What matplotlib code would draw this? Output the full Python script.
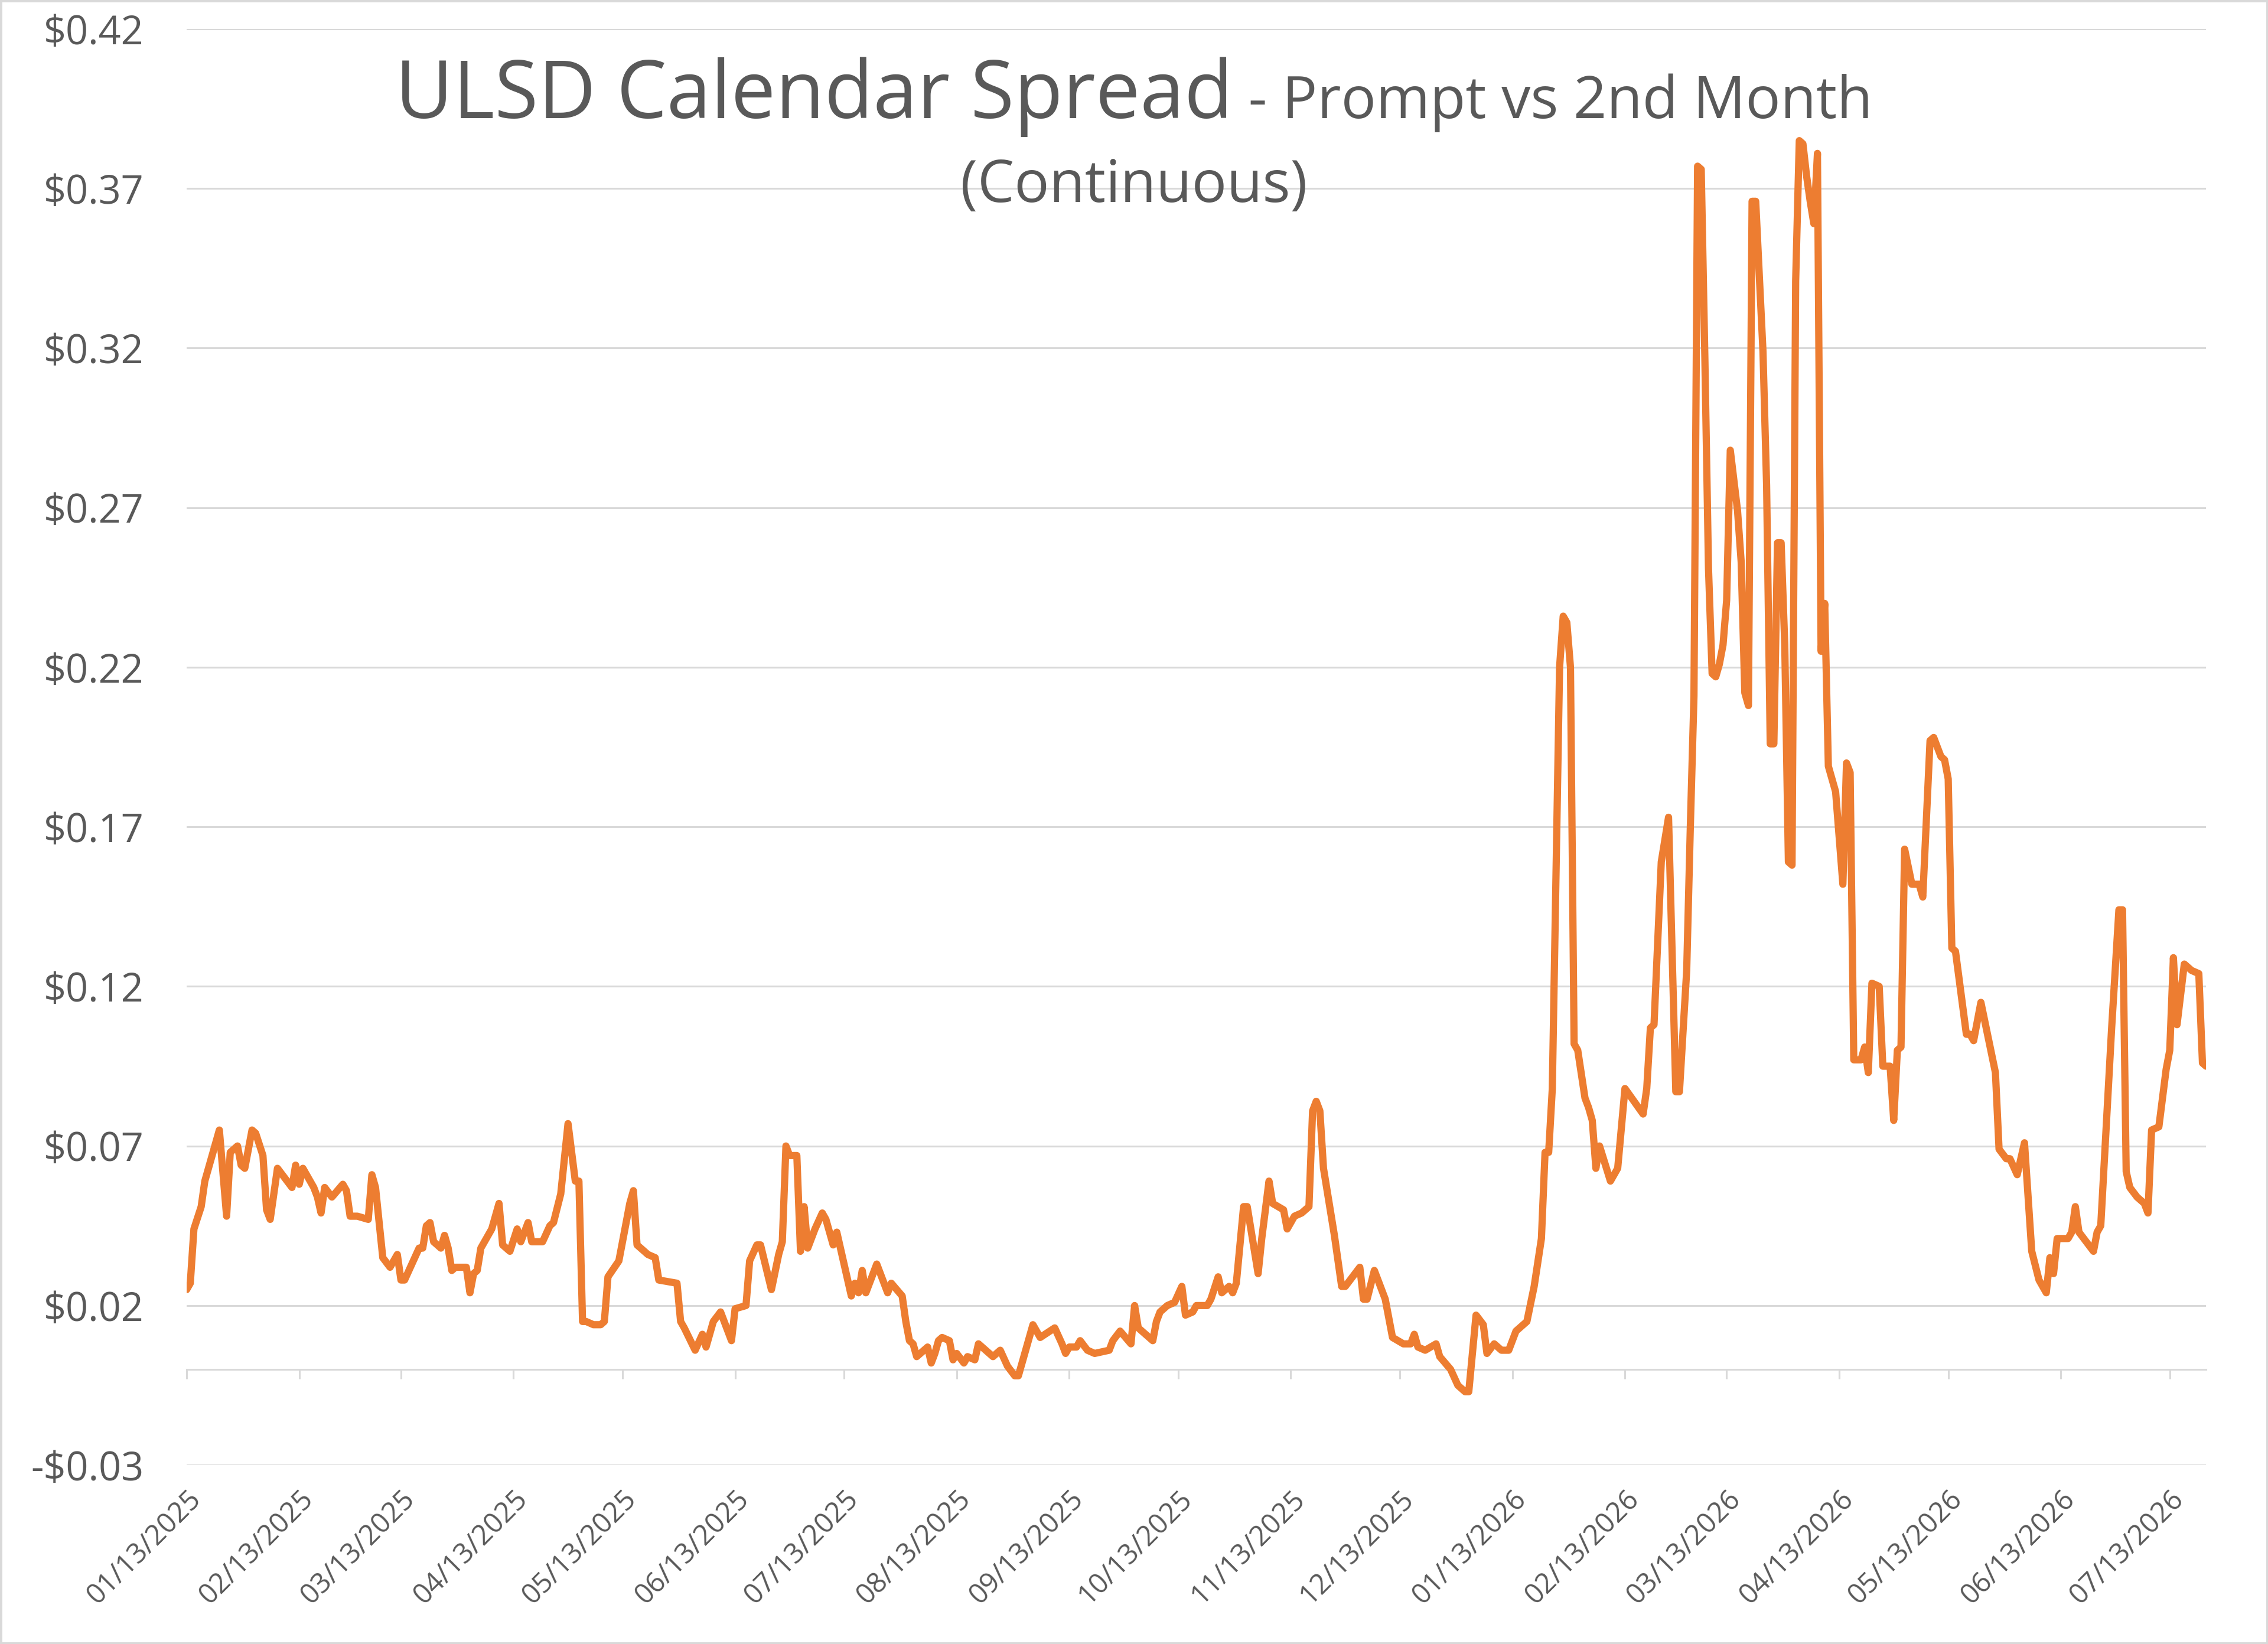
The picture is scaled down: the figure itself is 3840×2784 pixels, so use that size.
import numpy as np
import pandas as pd
import matplotlib
matplotlib.use("Agg")
import matplotlib.pyplot as plt
import matplotlib.dates as mdates
from matplotlib.patches import Rectangle
from matplotlib.ticker import FuncFormatter, FixedLocator

plt.rcParams['font.family'] = ['Open Sans', 'DejaVu Sans']

# ---data---
start_date = "2025-01-13"
day_offset = [
    0, 1, 2, 4, 5, 9, 11, 12, 14, 15, 16, 18, 19, 21, 22, 23, 25, 27, 29, 30,
    31, 32, 35, 36, 37, 38, 40, 43, 44, 45, 47, 50, 51, 52, 54, 56, 58, 59, 60, 62,
    64, 65, 66, 67, 68, 70, 71, 72, 73, 74, 77, 78, 79, 80, 81, 84, 86, 87, 89, 91,
    92, 94, 95, 98, 100, 101, 103, 105, 107, 108, 109, 110, 112, 114, 115, 116, 119, 120, 122, 123,
    124, 127, 129, 130, 135, 136, 137, 140, 142, 143, 145, 147, 150, 151, 154, 155, 157, 158, 161, 163,
    164, 165, 166, 168, 169, 170, 171, 173, 175, 176, 178, 179, 180, 183, 184, 185, 186, 187, 190, 193,
    194, 197, 198, 199, 200, 201, 204, 205, 206, 207, 208, 210, 211, 212, 214, 215, 217, 218, 220, 222,
    224, 226, 228, 229, 233, 235, 239, 241, 242, 243, 245, 246, 248, 250, 254, 255, 257, 260, 261, 262,
    264, 266, 267, 268, 270, 272, 274, 275, 277, 278, 281, 282, 284, 285, 287, 288, 289, 291, 292, 295,
    296, 298, 299, 302, 303, 305, 307, 309, 310, 311, 312, 313, 316, 318, 319, 323, 324, 325, 327, 330,
    331, 332, 335, 337, 338, 339, 341, 344, 345, 348, 350, 352, 353, 355, 357, 358, 360, 362, 364, 366,
    367, 369, 371, 373, 374, 375, 376, 378, 379, 380, 381, 382, 383, 385, 386, 387, 388, 389, 392, 394,
    396, 401, 402, 403, 404, 406, 408, 409, 410, 411, 413, 414, 415, 416, 417, 418, 419, 420, 421, 422,
    423, 424, 425, 427, 428, 429, 430, 431, 432, 434, 435, 436, 437, 438, 439, 440, 441, 442, 443, 444,
    445, 446, 447, 448, 449, 450, 451, 452, 454, 456, 457, 458, 459, 461, 462, 463, 464, 466, 467, 469,
    470, 471, 472, 473, 475, 477, 478, 480, 481, 483, 484, 485, 486, 487, 490, 491, 492, 494, 498, 499,
    501, 502, 504, 506, 508, 510, 512, 513, 514, 515, 518, 519, 520, 521, 525, 526, 527, 530, 532, 533,
    534, 535, 537, 539, 540, 541, 543, 545, 546, 547, 548, 550, 552, 554, 555, 556,
]
spread = [
    0.025, 0.027, 0.044, 0.051, 0.059, 0.075, 0.048, 0.068, 0.070, 0.064, 0.063, 0.075, 0.074, 0.067, 0.050, 0.047, 0.063, 0.060, 0.057, 0.064,
    0.058, 0.063, 0.057, 0.054, 0.049, 0.057, 0.054, 0.058, 0.056, 0.048, 0.048, 0.047, 0.061, 0.057, 0.035, 0.032, 0.036, 0.028, 0.028, 0.033,
    0.038, 0.038, 0.045, 0.046, 0.040, 0.038, 0.042, 0.038, 0.031, 0.032, 0.032, 0.024, 0.030, 0.031, 0.038, 0.044, 0.052, 0.039, 0.037, 0.044,
    0.040, 0.046, 0.040, 0.040, 0.045, 0.046, 0.055, 0.077, 0.059, 0.059, 0.015, 0.015, 0.014, 0.014, 0.015, 0.029, 0.034, 0.040, 0.052, 0.056,
    0.039, 0.036, 0.035, 0.028, 0.027, 0.015, 0.013, 0.006, 0.011, 0.007, 0.015, 0.018, 0.009, 0.019, 0.020, 0.034, 0.039, 0.039, 0.025, 0.036,
    0.040, 0.070, 0.067, 0.067, 0.037, 0.051, 0.038, 0.044, 0.049, 0.047, 0.039, 0.043, 0.038, 0.023, 0.027, 0.024, 0.031, 0.024, 0.033, 0.024,
    0.027, 0.023, 0.015, 0.009, 0.008, 0.004, 0.007, 0.002, 0.005, 0.009, 0.010, 0.009, 0.003, 0.005, 0.002, 0.004, 0.003, 0.008, 0.006, 0.004,
    0.006, 0.001, -0.002, -0.002, 0.014, 0.010, 0.013, 0.008, 0.005, 0.007, 0.007, 0.009, 0.006, 0.005, 0.006, 0.009, 0.012, 0.008, 0.020, 0.013,
    0.011, 0.009, 0.015, 0.018, 0.020, 0.021, 0.026, 0.017, 0.018, 0.020, 0.020, 0.022, 0.029, 0.024, 0.026, 0.024, 0.027, 0.051, 0.051, 0.030,
    0.041, 0.059, 0.052, 0.050, 0.044, 0.048, 0.049, 0.051, 0.081, 0.084, 0.081, 0.063, 0.042, 0.026, 0.026, 0.032, 0.022, 0.022, 0.031, 0.022,
    0.016, 0.010, 0.008, 0.008, 0.011, 0.007, 0.006, 0.008, 0.004, 0.000, -0.005, -0.007, -0.007, 0.017, 0.014, 0.005, 0.008, 0.006, 0.006, 0.012,
    0.013, 0.015, 0.026, 0.041, 0.068, 0.068, 0.088, 0.220, 0.236, 0.234, 0.220, 0.102, 0.100, 0.085, 0.082, 0.078, 0.063, 0.070, 0.059, 0.063,
    0.088, 0.080, 0.088, 0.107, 0.108, 0.159, 0.173, 0.130, 0.087, 0.087, 0.125, 0.170, 0.211, 0.377, 0.376, 0.317, 0.251, 0.218, 0.217, 0.221,
    0.227, 0.241, 0.288, 0.269, 0.253, 0.212, 0.208, 0.366, 0.366, 0.319, 0.277, 0.196, 0.196, 0.259, 0.259, 0.227, 0.159, 0.158, 0.341, 0.385,
    0.384, 0.374, 0.366, 0.359, 0.381, 0.225, 0.240, 0.189, 0.181, 0.152, 0.190, 0.187, 0.097, 0.097, 0.101, 0.093, 0.121, 0.120, 0.095, 0.095,
    0.078, 0.100, 0.101, 0.163, 0.152, 0.152, 0.148, 0.197, 0.198, 0.192, 0.191, 0.185, 0.132, 0.131, 0.105, 0.105, 0.103, 0.115, 0.093, 0.069,
    0.066, 0.066, 0.061, 0.071, 0.037, 0.028, 0.024, 0.035, 0.030, 0.041, 0.041, 0.043, 0.051, 0.043, 0.037, 0.043, 0.045, 0.107, 0.144, 0.144,
    0.062, 0.057, 0.054, 0.052, 0.049, 0.075, 0.076, 0.094, 0.100, 0.129, 0.108, 0.127, 0.125, 0.124, 0.096, 0.095,
]
y_ticks = [-0.03, 0.02, 0.07, 0.12, 0.17, 0.22, 0.27, 0.32, 0.37, 0.42]
title_main = "ULSD Calendar Spread"
title_sub = " - Prompt vs 2nd Month"
title_note = "(Continuous)"

dates = pd.Timestamp(start_date) + pd.to_timedelta(day_offset, unit="D")

grey_txt = "#595959"
grid_c = "#D9D9D9"

fig = plt.figure(figsize=(19.2, 13.92), dpi=200)
ax = fig.add_axes([0.0823, 0.1088, 0.8904, 0.8736])

ax.plot(dates, spread, color="#ED7D31", lw=4.4,
        solid_joinstyle="round", solid_capstyle="round", zorder=3)

ylo, yhi = y_ticks[0], y_ticks[-1]
ax.set_ylim(ylo, yhi)
ax.set_xlim(dates[0], dates[-1])

ax.yaxis.set_major_locator(FixedLocator(y_ticks))
ax.yaxis.set_major_formatter(FuncFormatter(
    lambda v, p: f"-${abs(v):.2f}" if v < -1e-9 else f"${v:.2f}"))
ax.grid(axis="y", color=grid_c, lw=1.1)
ax.set_axisbelow(True)
for s in ax.spines.values():
    s.set_visible(False)
ax.tick_params(axis="y", length=0, pad=26, labelsize=24, labelcolor=grey_txt)

ax.xaxis.set_major_locator(mdates.MonthLocator(bymonthday=13))
ax.xaxis.set_major_formatter(mdates.DateFormatter("%m/%d/%Y"))
ax.tick_params(axis="x", length=0, pad=12, labelsize=17, labelcolor=grey_txt)
for lab in ax.get_xticklabels():
    lab.set_rotation(45)
    lab.set_ha("right")
    lab.set_rotation_mode("anchor")

# horizontal category axis sitting at zero
sec = ax.secondary_xaxis((0 - ylo) / (yhi - ylo))
sec.xaxis.set_major_locator(mdates.MonthLocator(bymonthday=13))
sec.tick_params(axis="x", direction="out", length=5.7, width=1.1,
                color=grid_c, labelbottom=False)
for k, s in sec.spines.items():
    s.set_visible(k == "bottom")
sec.spines["bottom"].set_color(grid_c)
sec.spines["bottom"].set_linewidth(1.1)

# title: big + small on one line, centred
r = fig.canvas.get_renderer()
t1 = fig.text(0, 0.928, title_main, fontsize=48.5, color=grey_txt, va="baseline")
t2 = fig.text(0, 0.928, title_sub, fontsize=35.5, color=grey_txt, va="baseline")
w1 = t1.get_window_extent(r).width
w2 = t2.get_window_extent(r).width
W = fig.bbox.width
x0 = (W - w1 - w2) / 2
t1.set_x(x0 / W)
t2.set_x((x0 + w1) / W)
fig.text(0.5, 0.877, title_note, fontsize=35.5, color=grey_txt, ha="center", va="baseline")

fig.patches.append(Rectangle((0, 0), 1, 1, transform=fig.transFigure, fill=False,
                             edgecolor=grid_c, lw=2.5))

fig.savefig("out.png", dpi=200)
